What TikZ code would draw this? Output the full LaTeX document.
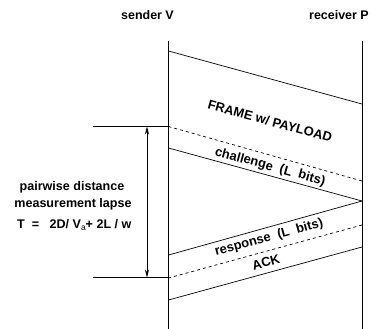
\documentclass[tikz,border=0pt]{standalone}
\usepackage{fontspec}
\setmainfont{Liberation Sans}
\usetikzlibrary{arrows.meta}
\begin{document}
\begin{tikzpicture}[x=1bp,y=-1bp,
  lane/.style={line width=0.8bp},
  msg/.style={line width=0.7bp},
  msgend/.style={line width=0.7bp, dash pattern=on 3bp off 3bp},
  head/.style={font=\fontsize{12.5}{14}\selectfont\bfseries, inner sep=0},
  lbl/.style={font=\fontsize{13}{15}\selectfont\bfseries, inner sep=0},
  side/.style={font=\fontsize{12.6}{15}\selectfont\bfseries, inner sep=0}]
\useasboundingbox (0,0) rectangle (370,329);
% lanes
\coordinate (Vt) at (168.5,41); \coordinate (Vb) at (168.5,329);
\coordinate (Pt) at (362,41);   \coordinate (Pb) at (362,329);
\draw[lane] (Vt) -- (Vb);
\draw[lane] (Pt) -- (Pb);
\node[head] (sender) at (147.5,15) {sender V};
\node[head] (receiver) at (339,15) {receiver P};
% messages
\coordinate (f1) at (168.5,51);  \coordinate (f2) at (362,104);
\coordinate (d1) at (168.5,126.5); \coordinate (d2) at (362,181);
\coordinate (c1) at (168.5,148); \coordinate (c2) at (362,201);
\coordinate (r1) at (168.5,255);
\coordinate (e2) at (362,225); \coordinate (e1) at (168.5,278);
\coordinate (a2) at (362,247); \coordinate (a1) at (168.5,300);
\draw[msg] (f1) -- (f2);
\draw[msgend] (d1) -- (d2);
\draw[msg] (c1) -- (c2);
\draw[msg] (c2) -- (r1);
\draw[msgend] (e2) -- (e1);
\draw[msg] (a2) -- (a1);
\node[lbl, rotate=-15.3] (frame) at (270,121) {FRAME w/ PAYLOAD};
\node[lbl, rotate=-15.3] (chal) at (270,167) {challenge\ \ (L\ \ bits)};
\node[lbl, rotate=15.3] (resp) at (269,237.5) {response\ \ (L\ \ bits)};
\node[lbl, rotate=15.3] (ack) at (266,262) {ACK};
% lapse
\coordinate (h1) at (93,126.5); \coordinate (h2) at (93,277.5);
\coordinate (t1) at (168.5,126.5); \coordinate (t2) at (168.5,277.5);
\draw[msg] (h1) -- (t1);
\draw[msg] (h2) -- (t2);
\coordinate (u1) at (147,126.5); \coordinate (u2) at (147,277.5);
\draw[line width=0.7bp, {Stealth[length=8bp,width=4bp]}-{Stealth[length=8bp,width=4bp]}] (u1) -- (u2);
\node[side] (l1) at (72,187) {pairwise distance};
\node[side] (l2) at (73,204.5) {measurement lapse};
\node[side, anchor=west] (l3) at (17,225) {T\ \ =\ \ \ 2D/ V\raisebox{-0.35ex}{\fontsize{8.5}{9}\selectfont\mdseries a}+ 2L / w};
\end{tikzpicture}
\end{document}
